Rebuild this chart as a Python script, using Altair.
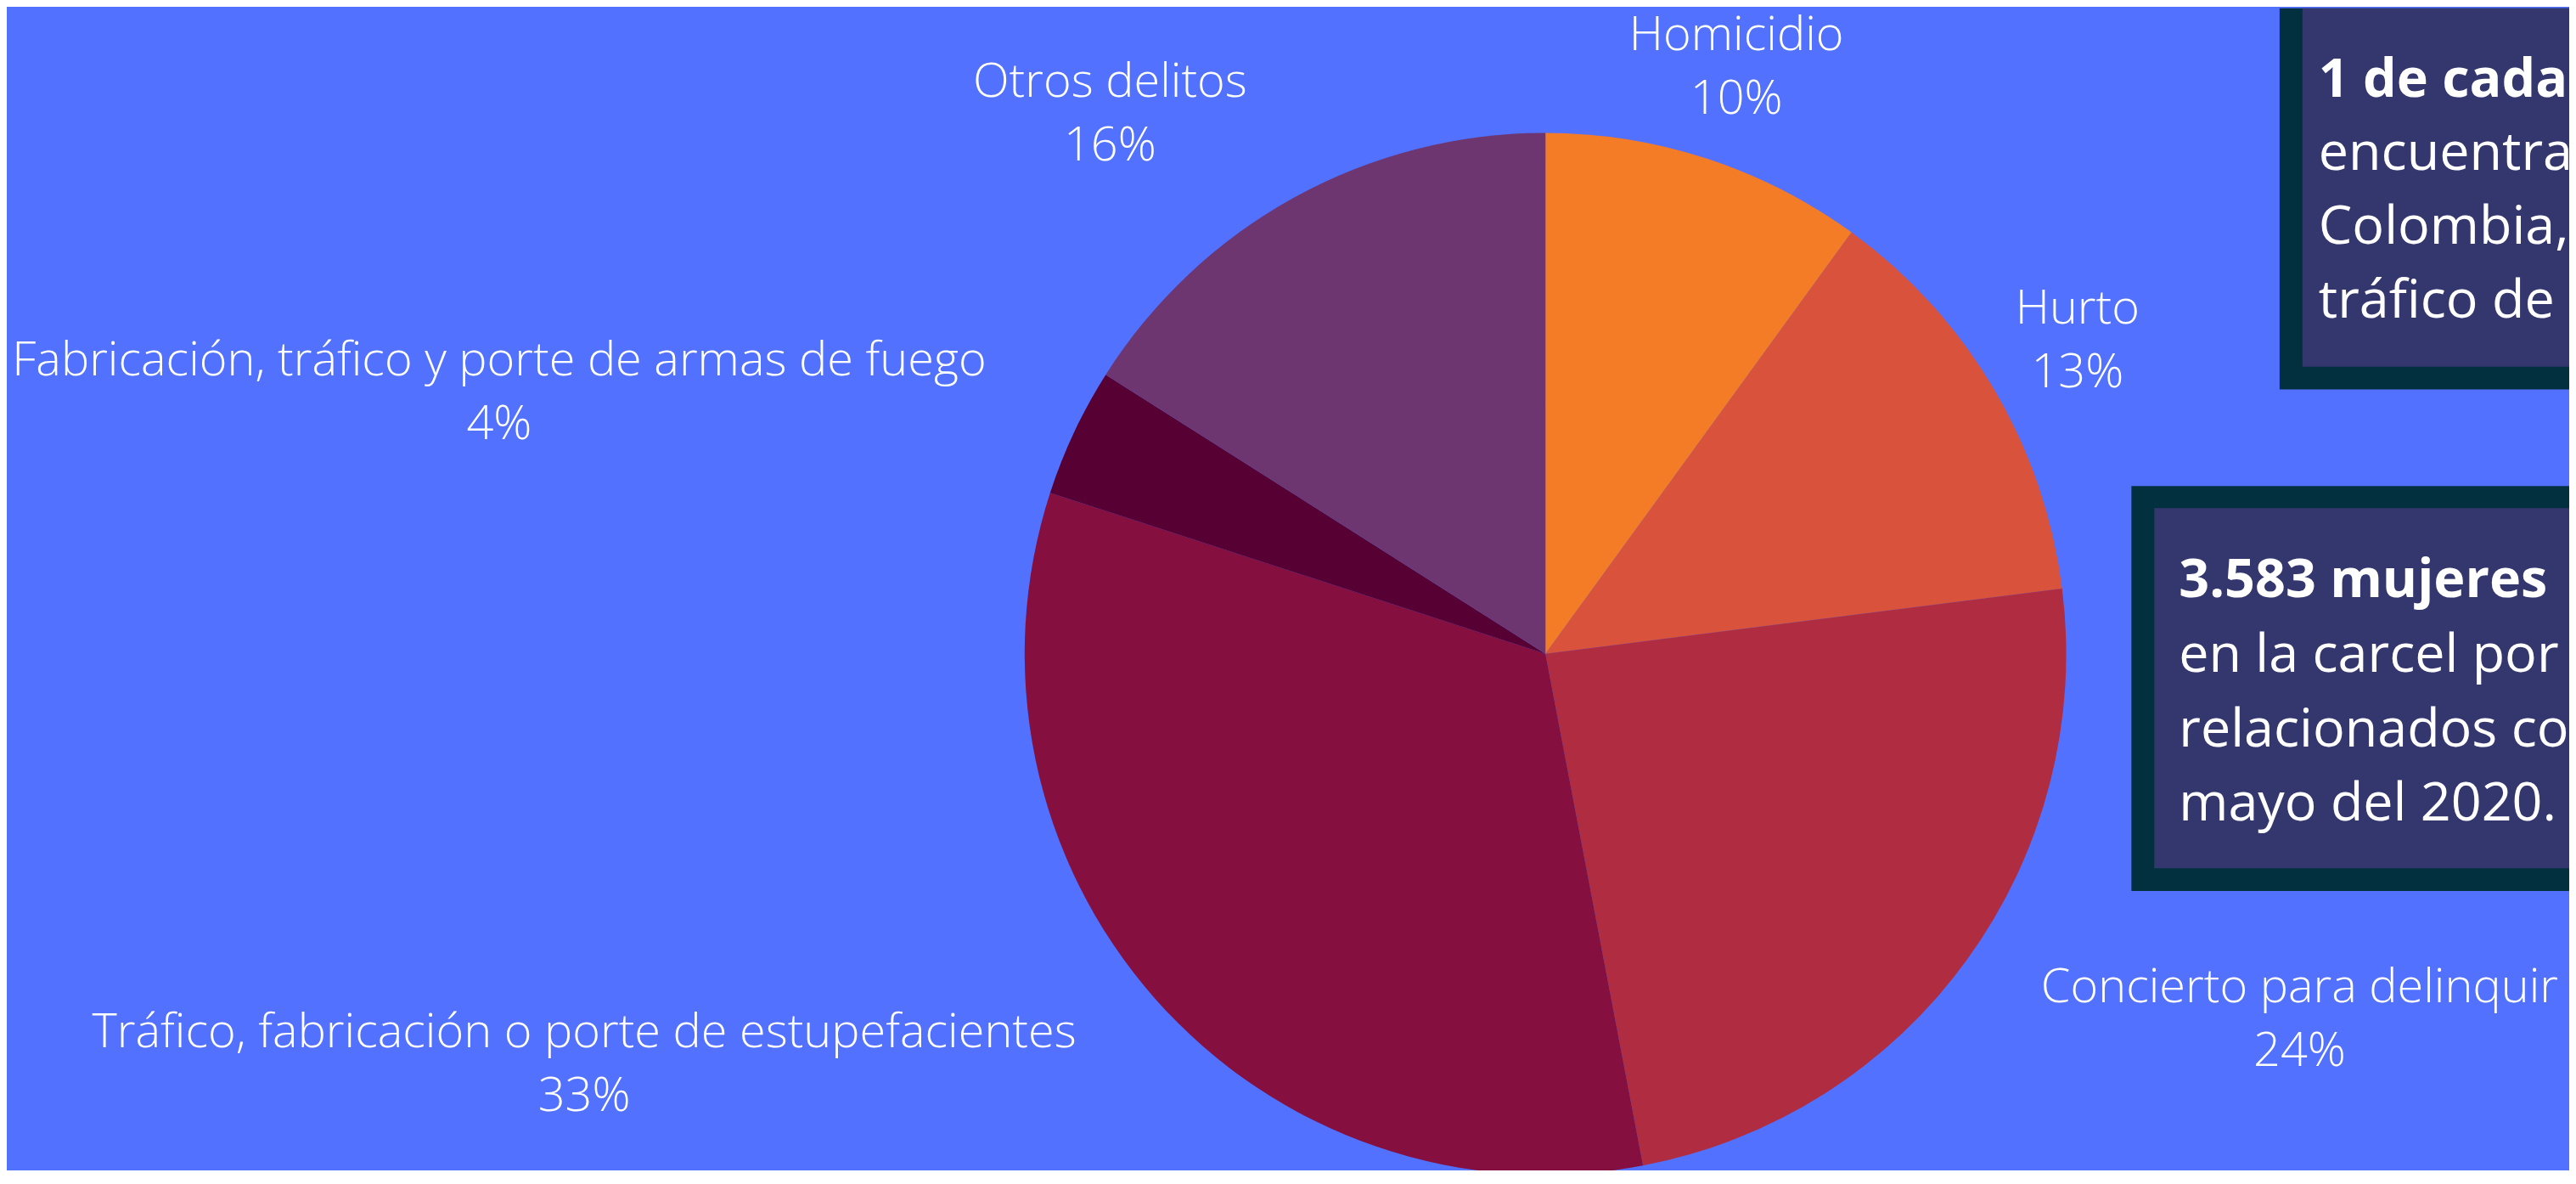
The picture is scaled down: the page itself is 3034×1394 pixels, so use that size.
import altair as alt
import pandas as pd

# ---------------- data ----------------
categories = [
    "Homicidio",
    "Hurto",
    "Concierto para delinquir",
    "Tráfico, fabricación o porte de estupefacientes",
    "Fabricación, tráfico y porte de armas de fuego",
    "Otros delitos",
]
shares = [10, 13, 24, 33, 4, 16]
slice_colors = ["#F47C26", "#D9523B", "#B02D41", "#85103F", "#570033", "#6D3670"]

# visible parts of the two annotation boxes (cut by the right edge in the source)
box1_lines = ["1 de cada", "encuentra", "Colombia,", "tráfico de"]
box2_lines = ["3.583 mujeres", "en la carcel por", "relacionados co", "mayo del 2020."]

# ---------------- layout ----------------
W, H = 3026, 1370
CX, CY = 1817, 762
R = 615
R_LABEL = 730
CHAR_W = 25
HALF_H = 75
BG = "#5271FF"
BOX_OUTER = "#02303F"
BOX_INNER = "#34366E"
FONT = "Open Sans"

df = pd.DataFrame({"cat": categories, "share": shares, "idx": list(range(len(categories)))})
base = alt.Chart(df)

pie = base.mark_arc(radius=R, strokeWidth=0).encode(
    theta=alt.Theta("share:Q", stack=True),
    color=alt.Color("cat:N", scale=alt.Scale(domain=categories, range=slice_colors), legend=None),
    order=alt.Order("idx:Q"),
    x=alt.value(CX),
    y=alt.value(CY),
)

# label placement: point on a circle at the slice mid-angle; the centred
# label block is pushed sideways when it would overlap the pie
lab = (
    base.transform_joinaggregate(total="sum(share)")
    .transform_window(cum="sum(share)", sort=[alt.SortField("idx")], frame=[None, 0])
    .transform_calculate(ang="2*PI*(datum.cum - datum.share/2)/datum.total")
    .transform_calculate(px=f"{CX} + {R_LABEL}*sin(datum.ang)")
    .transform_calculate(py=f"{CY} - {R_LABEL}*cos(datum.ang)")
    .transform_calculate(hw=f"length(datum.cat)*{CHAR_W}/2")
    .transform_calculate(nx=f"clamp({CX}, datum.px - datum.hw, datum.px + datum.hw)")
    .transform_calculate(ny=f"clamp({CY}, datum.py - {HALF_H}, datum.py + {HALF_H})")
    .transform_calculate(
        side=f"(pow(datum.nx-{CX},2)+pow(datum.ny-{CY},2) < {R*R}) ? (datum.px > {CX} ? 1 : -1) : 0"
    )
    .transform_calculate(lx="datum.px + datum.side*datum.hw")
    .transform_calculate(pct="datum.share + '%'")
)

label_layers = []
for field, dy in [("cat", -35), ("pct", 40)]:
    label_layers.append(
        lab.mark_text(
            align="center", baseline="middle", dy=dy, font=FONT, fontWeight=300,
            fontSize=56, color="white",
        ).encode(
            x=alt.X("lx:Q", scale=None),
            y=alt.Y("py:Q", scale=None),
            text=alt.Text(f"{field}:N"),
        )
    )

one = pd.DataFrame({"a": [0]})


def rect(x, x2, y, y2, color):
    return alt.Chart(one).mark_rect(color=color, strokeWidth=0).encode(
        x=alt.value(x), x2=alt.value(x2), y=alt.value(y), y2=alt.value(y2)
    )


boxes = [
    rect(2684, W, 0, 450, BOX_OUTER),
    rect(2711, W, 0, 423, BOX_INNER),
    rect(2509, W, 564, 1042, BOX_OUTER),
    rect(2536, W, 590, 1015, BOX_INNER),
]


def box_text(lines, x0, y0, step):
    d = pd.DataFrame({"t": lines, "i": list(range(len(lines)))})
    c = alt.Chart(d).transform_calculate(ty=f"{y0} + datum.i*{step}")
    layers = []
    for cond, wt in [("datum.i == 0", "bold"), ("datum.i > 0", "normal")]:
        layers.append(
            c.transform_filter(cond)
            .mark_text(align="left", baseline="alphabetic", font=FONT, fontWeight=wt,
                       fontSize=63, color="white", clip=True)
            .encode(x=alt.value(x0), y=alt.Y("ty:Q", scale=None), text="t:N")
        )
    return layers


texts = box_text(box1_lines, 2730, 104, 87) + box_text(box2_lines, 2565, 695, 88)

chart = alt.layer(pie, *label_layers, *boxes, *texts).properties(
    width=W,
    height=H,
    background=BG,
    padding=0,
    autosize=alt.AutoSizeParams(type="none"),
).configure_view(stroke=None)

chart.save("out.html", embed_options={"renderer": "svg", "actions": False})
